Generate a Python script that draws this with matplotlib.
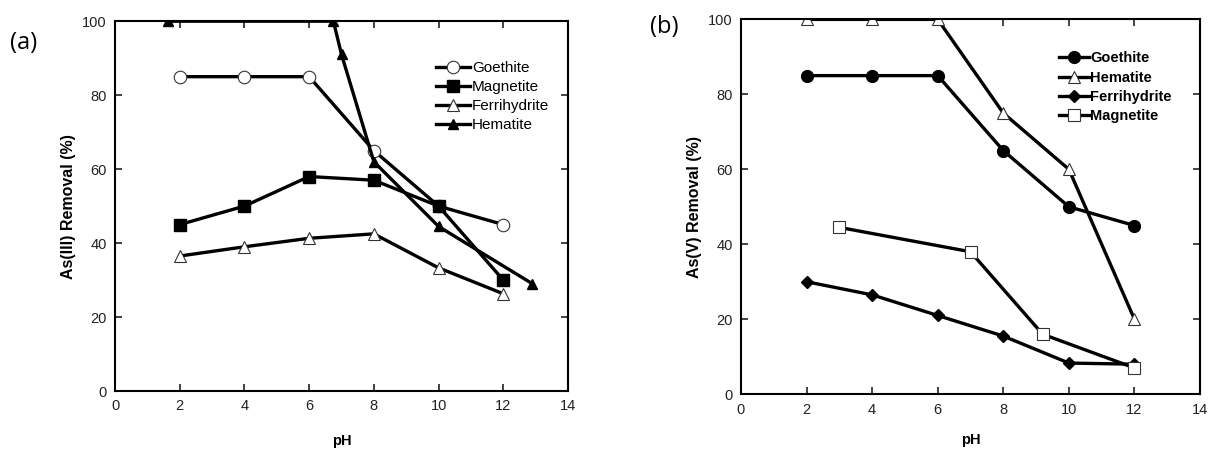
import numpy as np
import matplotlib
matplotlib.use("Agg")
import matplotlib.pyplot as plt

plt.rcParams["font.family"] = ["Liberation Sans", "DejaVu Sans"]

# Panel (a): As(III) removal
ph_a = [2, 4, 6, 8, 10, 12]
goethite_a = [85, 85, 85, 65, 50, 45]
magnetite_a = [45, 50, 58, 57, 50, 30]
ferrihydrite_a = [36.5, 39, 41.3, 42.5, 33.3, 26.3]
ph_hem_a = [1.65, 6.75, 7.0, 8.0, 10.0, 12.9]
hematite_a = [100, 100, 91, 62, 44.5, 29]

# Panel (b): As(V) removal
ph_b = [2, 4, 6, 8, 10, 12]
goethite_b = [85, 85, 85, 65, 50, 45]
hematite_b = [100, 100, 100, 75, 60, 20]
ferrihydrite_b = [30, 26.5, 21, 15.5, 8.3, 8]
ph_mag_b = [3, 7, 9.2, 12]
magnetite_b = [44.5, 38, 16, 7]

xticks = [0, 2, 4, 6, 8, 10, 12, 14]
yticks = [0, 20, 40, 60, 80, 100]

LW = 2.4
MS = 8.5


def style_axes(ax, ylabel, xpad):
    ax.set_xlim(0, 14)
    ax.set_ylim(0, 100)
    ax.set_xticks(xticks)
    ax.set_yticks(yticks)
    ax.tick_params(direction="in", top=True, right=True, length=5, width=1.2,
                   labelsize=10.5, pad=6, colors="#222222")
    for s in ax.spines.values():
        s.set_linewidth(1.5)
    ax.set_xlabel("pH", fontsize=10.5, fontweight="bold", labelpad=xpad)
    ax.set_ylabel(ylabel, fontsize=11.5, fontweight="bold", labelpad=4)


fig = plt.figure(figsize=(12.08, 4.51), dpi=100)

# ---- (a)
ax1 = fig.add_axes([0.0952, 0.133, 0.375, 0.820])
ax1.plot(ph_a, goethite_a, "-o", color="black", lw=LW, ms=MS + 0.5,
         mfc="white", mec="#333333", mew=0.8, label="Goethite")
ax1.plot(ph_a, magnetite_a, "-s", color="black", lw=LW, ms=MS,
         mfc="black", label="Magnetite")
ax1.plot(ph_a, ferrihydrite_a, "-^", color="black", lw=LW, ms=MS,
         mfc="white", mec="#333333", mew=0.8, label="Ferrihydrite")
ax1.plot(ph_hem_a, hematite_a, "-^", color="black", lw=LW, ms=MS - 1,
         mfc="black", label="Hematite")
style_axes(ax1, "As(III) Removal (%)", 15)
ax1.legend(loc="upper left", bbox_to_anchor=(0.361, 0.864),
           bbox_transform=fig.transFigure, frameon=False, borderpad=0,
           borderaxespad=0, fontsize=11, handlelength=2.2,
           handletextpad=0.15, labelspacing=0.32)

# ---- (b)
ax2 = fig.add_axes([0.6134, 0.126, 0.380, 0.831])
ax2.plot(ph_b, goethite_b, "-o", color="black", lw=LW, ms=MS,
         mfc="black", label="Goethite")
ax2.plot(ph_b, hematite_b, "-^", color="black", lw=LW, ms=MS,
         mfc="white", mec="#333333", mew=0.8, label="Hematite")
ax2.plot(ph_b, ferrihydrite_b, "-D", color="black", lw=LW, ms=MS - 2.5,
         mfc="black", label="Ferrihydrite")
ax2.plot(ph_mag_b, magnetite_b, "-s", color="black", lw=LW, ms=MS + 0.5,
         mfc="white", mec="#333333", mew=0.8, label="Magnetite")
style_axes(ax2, "As(V) Removal (%)", 12)
ax2.legend(loc="upper left", bbox_to_anchor=(0.877, 0.886),
           bbox_transform=fig.transFigure, frameon=False, borderpad=0,
           borderaxespad=0, handlelength=2.0, handletextpad=0.1,
           labelspacing=0.36, prop={"weight": "bold", "size": 10.5})

fig.text(0.008, 0.905, "(a)", fontsize=17, va="center",
         family=["Open Sans", "DejaVu Sans"])
fig.text(0.538, 0.94, "(b)", fontsize=17, va="center",
         family=["Open Sans", "DejaVu Sans"])

fig.savefig("out.png", dpi=100)
